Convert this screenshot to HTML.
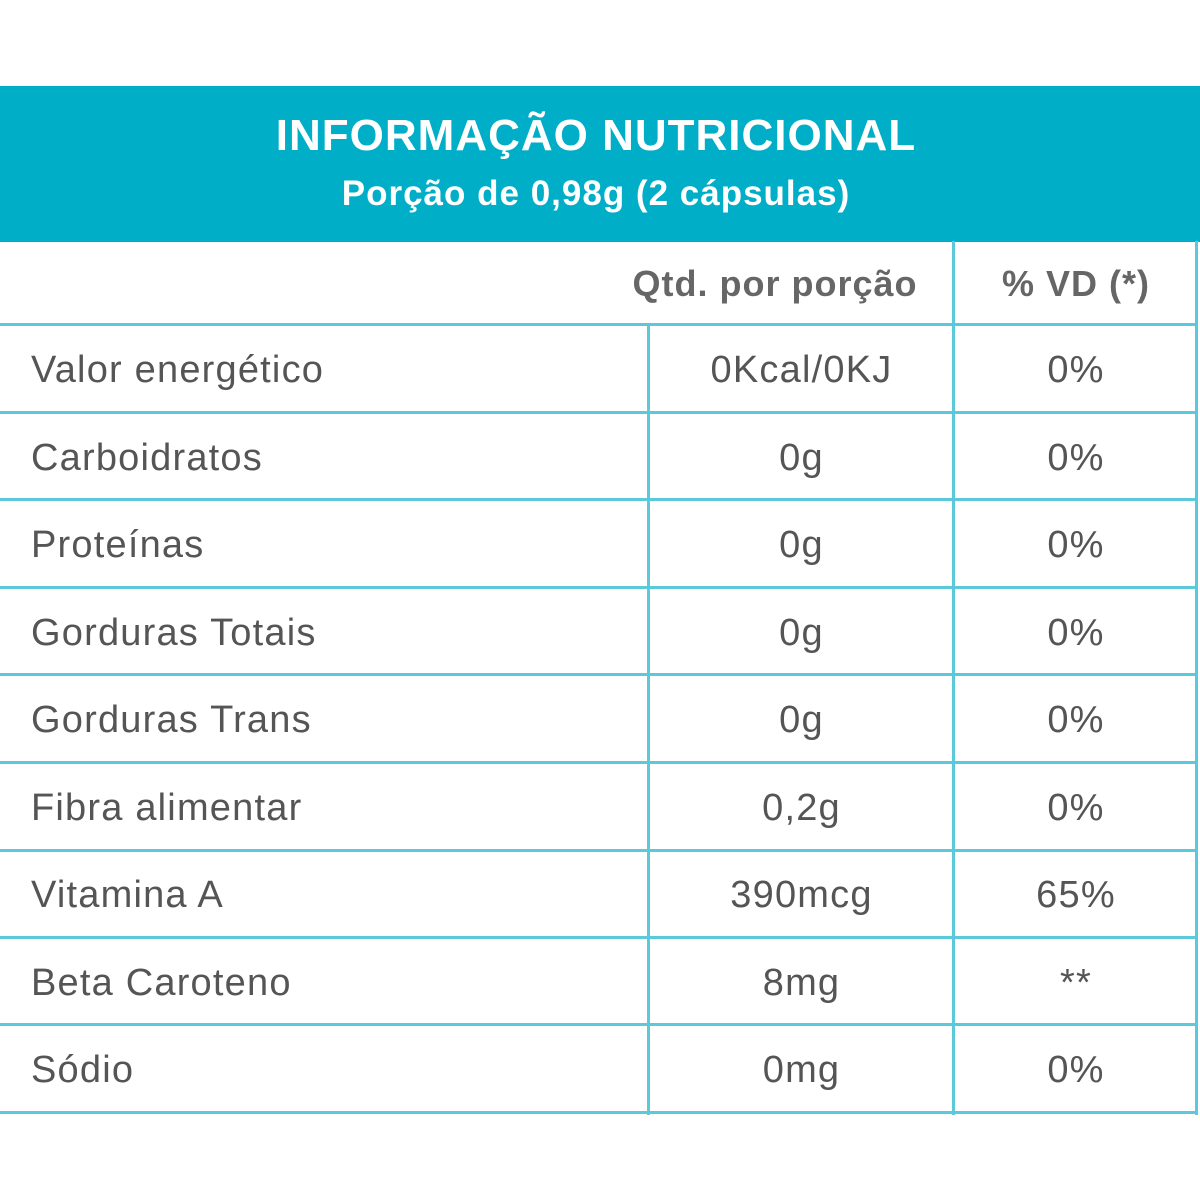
<!DOCTYPE html>
<html><head><meta charset="utf-8"><style>
html,body{margin:0;padding:0;background:#fff;width:1200px;height:1200px;overflow:hidden;font-family:"Liberation Sans",sans-serif;}
.band{position:absolute;left:0;top:86px;width:1200px;height:156px;background:#00AEC7;}
.t1{position:absolute;left:0;width:1192px;top:111px;text-align:center;color:#fff;font-weight:bold;font-size:44px;letter-spacing:1px;}
.t2{position:absolute;left:0;width:1192px;top:174px;text-align:center;color:#fff;font-weight:bold;font-size:35px;letter-spacing:1px;}
.h{position:absolute;background:#5CC9DB;height:3px;left:0;width:1198px;}
.v{position:absolute;background:#5CC9DB;width:3px;}
.c{position:absolute;color:#555;font-size:38px;line-height:40px;letter-spacing:1.2px;}
.l{left:31px;}
.m{left:650px;width:303px;text-align:center;}
.r{left:956px;width:240px;text-align:center;}
</style></head><body>
<div class="band"></div>
<div class="t1">INFORMAÇÃO NUTRICIONAL</div>
<div class="t2">Porção de 0,98g (2 cápsulas)</div>
<div class="c m" style="top:264px;font-weight:bold;color:#666;font-size:36px;letter-spacing:1px;left:600px;width:350px;">Qtd. por porção</div>
<div class="c r" style="top:264px;font-weight:bold;color:#666;font-size:36px;letter-spacing:1px;">% VD (*)</div>
<div class="v" style="left:952px;top:241px;height:874px;"></div>
<div class="v" style="left:647px;top:324px;height:791px;"></div>
<div class="v" style="left:1195px;top:241px;height:874px;"></div>
<div class="h" style="top:323px"></div>
<div class="h" style="top:411px"></div>
<div class="h" style="top:498px"></div>
<div class="h" style="top:586px"></div>
<div class="h" style="top:673px"></div>
<div class="h" style="top:761px"></div>
<div class="h" style="top:849px"></div>
<div class="h" style="top:936px"></div>
<div class="h" style="top:1023px"></div>
<div class="h" style="top:1111px"></div>
<div class="c l" style="top:350px">Valor energético</div><div class="c m" style="top:350px">0Kcal/0KJ</div><div class="c r" style="top:350px">0%</div>
<div class="c l" style="top:438px">Carboidratos</div><div class="c m" style="top:438px">0g</div><div class="c r" style="top:438px">0%</div>
<div class="c l" style="top:525px">Proteínas</div><div class="c m" style="top:525px">0g</div><div class="c r" style="top:525px">0%</div>
<div class="c l" style="top:613px">Gorduras Totais</div><div class="c m" style="top:613px">0g</div><div class="c r" style="top:613px">0%</div>
<div class="c l" style="top:700px">Gorduras Trans</div><div class="c m" style="top:700px">0g</div><div class="c r" style="top:700px">0%</div>
<div class="c l" style="top:788px">Fibra alimentar</div><div class="c m" style="top:788px">0,2g</div><div class="c r" style="top:788px">0%</div>
<div class="c l" style="top:875px">Vitamina A</div><div class="c m" style="top:875px">390mcg</div><div class="c r" style="top:875px">65%</div>
<div class="c l" style="top:963px">Beta Caroteno</div><div class="c m" style="top:963px">8mg</div><div class="c r" style="top:963px">**</div>
<div class="c l" style="top:1050px">Sódio</div><div class="c m" style="top:1050px">0mg</div><div class="c r" style="top:1050px">0%</div>
</body></html>
